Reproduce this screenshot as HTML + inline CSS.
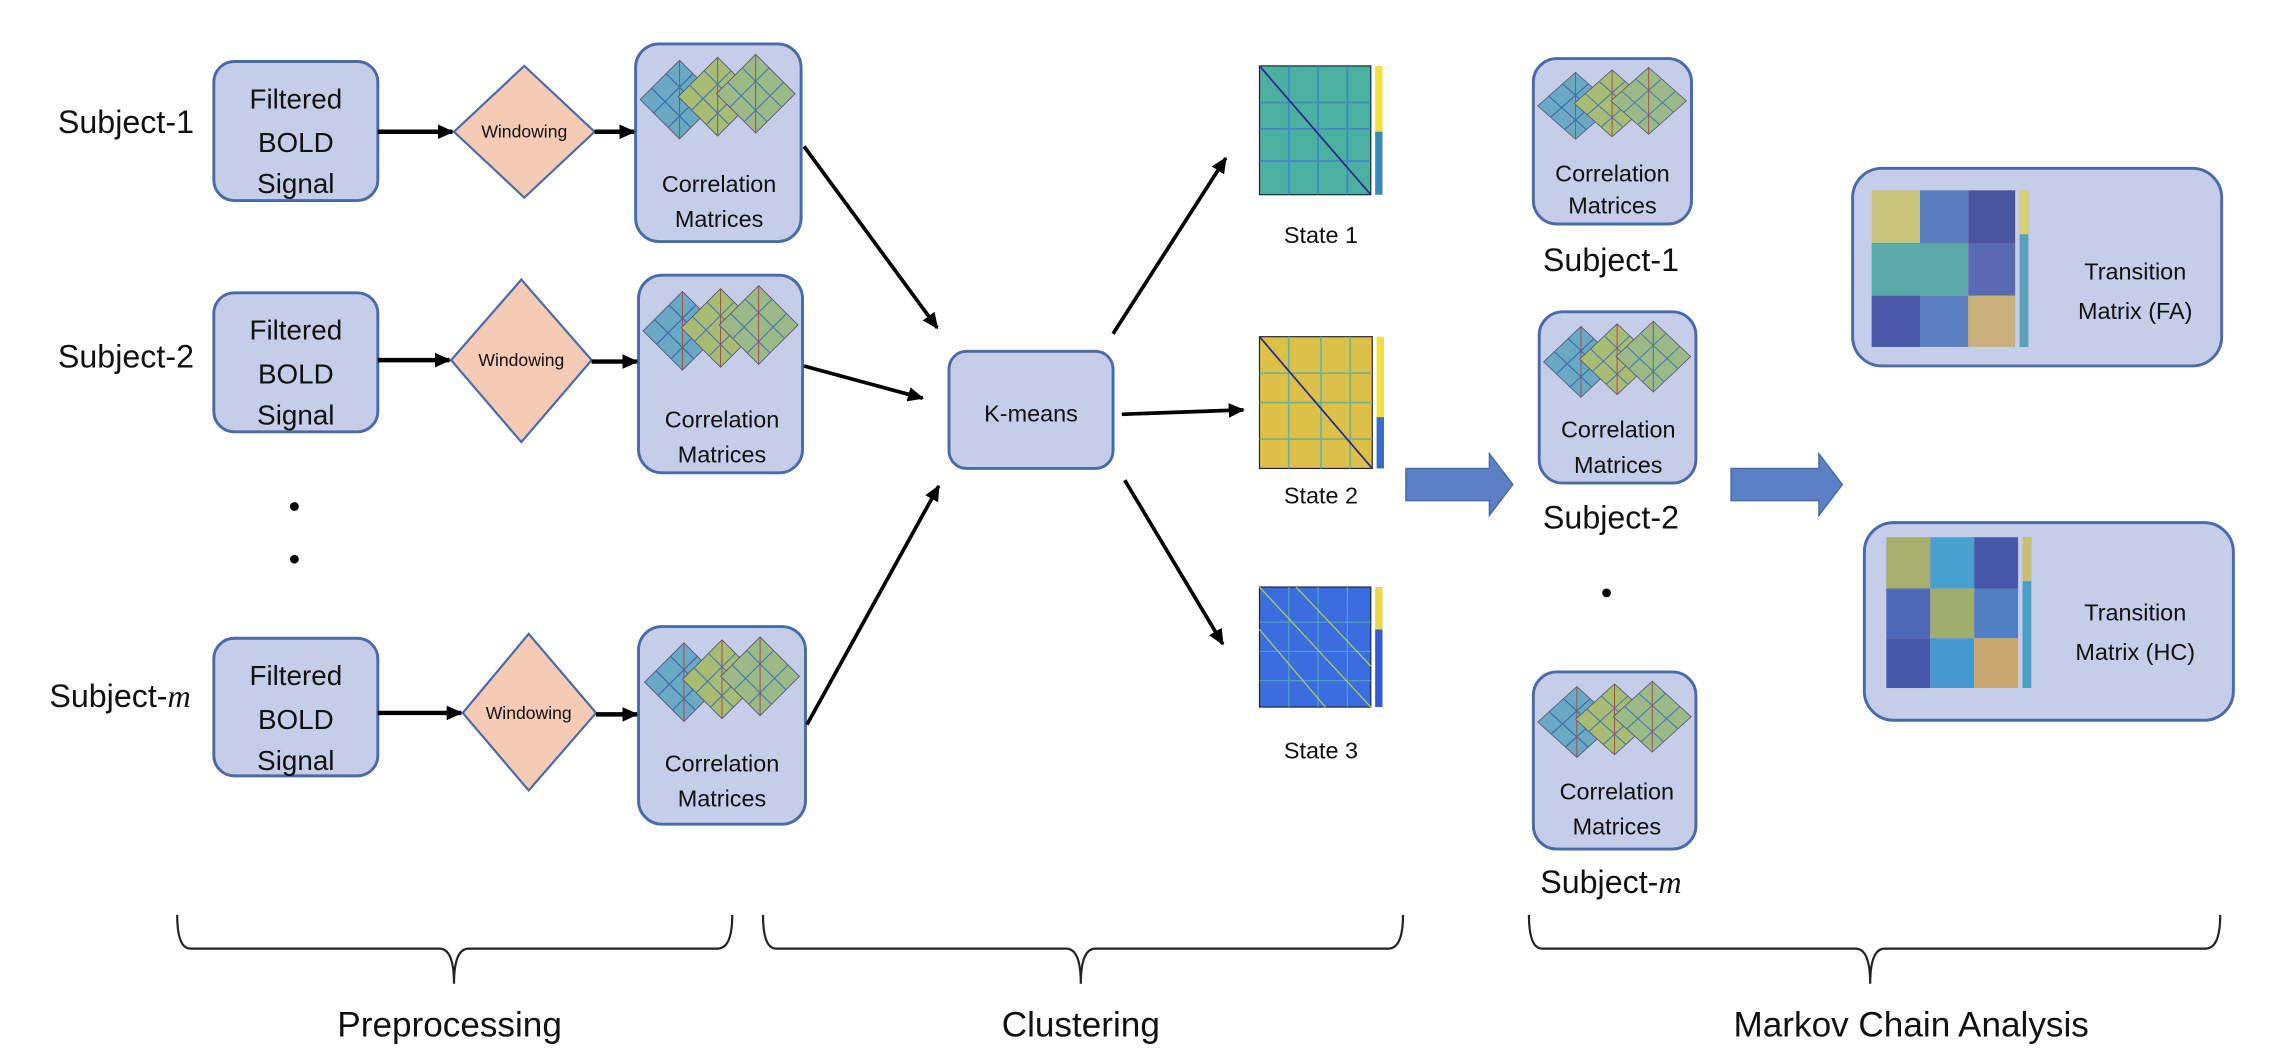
<!DOCTYPE html>
<html><head><meta charset="utf-8"><style>
html,body{margin:0;padding:0;background:#fff;}
svg{display:block;}
text{font-family:"Liberation Sans",sans-serif;fill:#111;}
</style></head><body>
<svg width="2270" height="1054" viewBox="0 0 1550 720" preserveAspectRatio="none" xmlns="http://www.w3.org/2000/svg">
<defs>
<marker id="ah" markerWidth="12" markerHeight="12" refX="10" refY="5" orient="auto" markerUnits="userSpaceOnUse">
<path d="M0,0 L11,5 L0,10 z" fill="#000"/></marker>
<g id="cm">
 <g transform="translate(30,38) rotate(45)"><rect x="-19" y="-19" width="38" height="38" fill="#6aa8c4" stroke="#557" stroke-width="0.6"/><path d="M-19,-6H19M-19,8H19M-6,-19V19M8,-19V19" stroke="#3a6aa8" stroke-width="0.8"/><path d="M-19,-19L19,19" stroke="#a05050" stroke-width="0.7"/></g>
 <g transform="translate(56,36) rotate(45)"><rect x="-19" y="-19" width="38" height="38" fill="#a8bc74" stroke="#557" stroke-width="0.6"/><path d="M-19,-6H19M-19,8H19M-6,-19V19M8,-19V19" stroke="#4a7ab0" stroke-width="0.8"/><path d="M-19,-19L19,19" stroke="#a05050" stroke-width="0.7"/></g>
 <g transform="translate(82,34) rotate(45)"><rect x="-19" y="-19" width="38" height="38" fill="#9cba88" stroke="#557" stroke-width="0.6"/><path d="M-19,-6H19M-19,8H19M-6,-19V19M8,-19V19" stroke="#4a7ab0" stroke-width="0.8"/><path d="M-19,-19L19,19" stroke="#a05050" stroke-width="0.7"/></g>
</g>
</defs>
<g stroke="#4a6aa8" stroke-width="2" fill="#c5cde8">
 <rect x="146" y="42" width="112" height="95" rx="14"/>
 <rect x="146" y="200" width="112" height="95" rx="14"/>
 <rect x="146" y="436" width="112" height="94" rx="14"/>
 <rect x="434" y="30" width="113" height="135" rx="16"/>
 <rect x="436" y="188" width="112" height="135" rx="16"/>
 <rect x="436" y="428" width="114" height="135" rx="16"/>
 <rect x="648" y="240" width="112" height="80" rx="12"/>
 <rect x="1047" y="40" width="108" height="113" rx="16"/>
 <rect x="1051" y="213" width="107" height="117" rx="16"/>
 <rect x="1047" y="459" width="111" height="121" rx="16"/>
 <rect x="1265" y="115" width="252" height="135" rx="20"/>
 <rect x="1273" y="357" width="252" height="135" rx="20"/>
</g>
<g stroke="#4a6aa8" stroke-width="1.5" fill="#f5cbb5">
 <polygon points="358,45 406,90 358,135 310,90"/>
 <polygon points="356,191 404,246 356,302 308,246"/>
 <polygon points="361,433 407,487 361,540 316,487"/>
</g>
<use href="#cm" x="434" y="30"/>
<use href="#cm" x="436" y="188"/>
<use href="#cm" x="437" y="428"/>
<use href="#cm" transform="translate(1047,40) scale(0.96,0.85)"/>
<use href="#cm" transform="translate(1051,213) scale(0.95,0.9)"/>
<use href="#cm" transform="translate(1047,459) scale(0.99,0.9)"/>
<g font-size="22" text-anchor="middle">
 <text x="86" y="91">Subject-1</text>
 <text x="86" y="251">Subject-2</text>
 <text x="82" y="483">Subject-<tspan font-family="Liberation Serif" font-style="italic">m</tspan></text>
 <text x="1100" y="185">Subject-1</text>
 <text x="1100" y="361">Subject-2</text>
 <text x="1100" y="610">Subject-<tspan font-family="Liberation Serif" font-style="italic">m</tspan></text>
</g>
<g font-size="19" text-anchor="middle">
 <text x="202" y="74">Filtered</text><text x="202" y="104">BOLD</text><text x="202" y="132">Signal</text>
 <text x="202" y="232">Filtered</text><text x="202" y="262">BOLD</text><text x="202" y="290">Signal</text>
 <text x="202" y="468">Filtered</text><text x="202" y="498">BOLD</text><text x="202" y="526">Signal</text>
</g>
<g font-size="16" text-anchor="middle">
 <text x="491" y="131">Correlation</text><text x="491" y="155">Matrices</text>
 <text x="493" y="292">Correlation</text><text x="493" y="316">Matrices</text>
 <text x="493" y="527">Correlation</text><text x="493" y="551">Matrices</text>
 <text x="1101" y="124">Correlation</text><text x="1101" y="146">Matrices</text>
 <text x="1105" y="299">Correlation</text><text x="1105" y="323">Matrices</text>
 <text x="1104" y="546">Correlation</text><text x="1104" y="570">Matrices</text>
 <text x="704" y="288">K-means</text>
 <text x="902" y="166">State 1</text><text x="902" y="344">State 2</text><text x="902" y="518">State 3</text>
 <text x="1458" y="191">Transition</text><text x="1458" y="218">Matrix  (FA)</text>
 <text x="1458" y="424">Transition</text><text x="1458" y="451">Matrix  (HC)</text>
</g>
<g font-size="12" text-anchor="middle">
 <text x="358" y="94">Windowing</text><text x="356" y="250">Windowing</text><text x="361" y="491">Windowing</text>
</g>
<g font-size="24" text-anchor="middle">
 <text x="307" y="708">Preprocessing</text><text x="738" y="708">Clustering</text><text x="1305" y="708">Markov Chain Analysis</text>
</g>
<g stroke="#000" stroke-width="3" marker-end="url(#ah)">
 <line x1="258" y1="90" x2="309" y2="90"/><line x1="406" y1="90" x2="433" y2="90"/>
 <line x1="258" y1="246" x2="307" y2="246"/><line x1="404" y1="247" x2="435" y2="247"/>
 <line x1="258" y1="487" x2="315" y2="487"/><line x1="407" y1="488" x2="435" y2="488"/>
</g>
<g stroke="#000" stroke-width="2.5" marker-end="url(#ah)">
 <line x1="549" y1="100" x2="640" y2="224"/>
 <line x1="549" y1="250" x2="630" y2="272"/>
 <line x1="551" y1="495" x2="641" y2="332"/>
 <line x1="760" y1="228" x2="837" y2="108"/>
 <line x1="766" y1="283" x2="849" y2="280"/>
 <line x1="768" y1="328" x2="835" y2="440"/>
</g>
<g fill="#000"><circle cx="201" cy="346" r="3"/><circle cx="201" cy="382" r="3"/><circle cx="1097" cy="405" r="3"/></g>
<g fill="#5b80c6" stroke="#4a6aa8" stroke-width="1">
 <polygon points="960,320 1017,320 1017,310 1033,331 1017,352 1017,342 960,342"/>
 <polygon points="1182,320 1242,320 1242,310 1258,331 1242,352 1242,342 1182,342"/>
</g>
<g>
 <rect x="860" y="45" width="76" height="88" fill="#4cb0a0" stroke="#223" stroke-width="0.8"/>
 <path d="M860,70H936M860,88H936M860,110H936M880,45V133M900,45V133M920,45V133" stroke="#3a7ad0" stroke-width="1.2" opacity="0.7"/>
 <path d="M860,45L936,133" stroke="#2a2a8a" stroke-width="1.2"/>
 <rect x="939" y="45" width="5" height="88" fill="#f0e040"/><rect x="939" y="90" width="5" height="43" fill="#3a8ab8"/>
 <rect x="860" y="230" width="77" height="90" fill="#dcc048" stroke="#223" stroke-width="0.8"/>
 <path d="M860,255H937M860,275H937M860,300H937M880,230V320M902,230V320M922,230V320" stroke="#58b0a8" stroke-width="1.2" opacity="0.8"/>
 <path d="M860,230L937,320" stroke="#2a2a8a" stroke-width="1.2"/>
 <rect x="940" y="230" width="5" height="90" fill="#f0e040"/><rect x="940" y="285" width="5" height="35" fill="#3a6ac8"/>
 <rect x="860" y="401" width="76" height="82" fill="#3a6ee0" stroke="#223" stroke-width="0.8"/>
 <path d="M860,425H936M860,445H936M860,465H936M880,401V483M900,401V483M920,401V483" stroke="#60b8b0" stroke-width="0.8" opacity="0.7"/>
 <path d="M860,401L936,483M885,401L936,455M860,430L905,483" stroke="#a8c860" stroke-width="0.9"/>
 <rect x="939" y="401" width="5" height="82" fill="#e8d848"/><rect x="939" y="430" width="5" height="53" fill="#3a5ad0"/>
</g>
<g>
 <rect x="1278" y="130" width="33" height="36" fill="#c8c27a"/><rect x="1311" y="130" width="33" height="36" fill="#5a7fc0"/><rect x="1344" y="130" width="32" height="36" fill="#4a55a0"/>
 <rect x="1278" y="166" width="66" height="36" fill="#5aa8a8"/><rect x="1344" y="166" width="32" height="36" fill="#5a6ab0"/>
 <rect x="1278" y="202" width="33" height="35" fill="#4a58a8"/><rect x="1311" y="202" width="33" height="35" fill="#5a80c0"/><rect x="1344" y="202" width="32" height="35" fill="#c8b078"/>
 <rect x="1379" y="130" width="6" height="107" fill="#5aa0b8"/><rect x="1379" y="130" width="6" height="30" fill="#d8d070"/>
 <rect x="1288" y="367" width="30" height="35" fill="#a8b070"/><rect x="1318" y="367" width="30" height="35" fill="#48a0d0"/><rect x="1348" y="367" width="30" height="35" fill="#4858a8"/>
 <rect x="1288" y="402" width="30" height="34" fill="#5068b8"/><rect x="1318" y="402" width="30" height="34" fill="#a0ac70"/><rect x="1348" y="402" width="30" height="34" fill="#5080c0"/>
 <rect x="1288" y="436" width="30" height="34" fill="#4858a8"/><rect x="1318" y="436" width="30" height="34" fill="#4898d0"/><rect x="1348" y="436" width="30" height="34" fill="#c8a870"/>
 <rect x="1381" y="367" width="6" height="103" fill="#48a0c8"/><rect x="1381" y="367" width="6" height="30" fill="#c8c070"/>
</g>
<g fill="none" stroke="#222" stroke-width="1.5">
 <path d="M121,625 Q121,648 130,648 L300,648 Q310,648 310,672 Q310,648 320,648 L490,648 Q500,648 500,625"/>
 <path d="M521,625 Q521,648 530,648 L728,648 Q738,648 738,672 Q738,648 748,648 L948,648 Q958,648 958,625"/>
 <path d="M1044,625 Q1044,648 1053,648 L1267,648 Q1277,648 1277,672 Q1277,648 1287,648 L1506,648 Q1516,648 1516,625"/>
</g>
</svg>
</body></html>
